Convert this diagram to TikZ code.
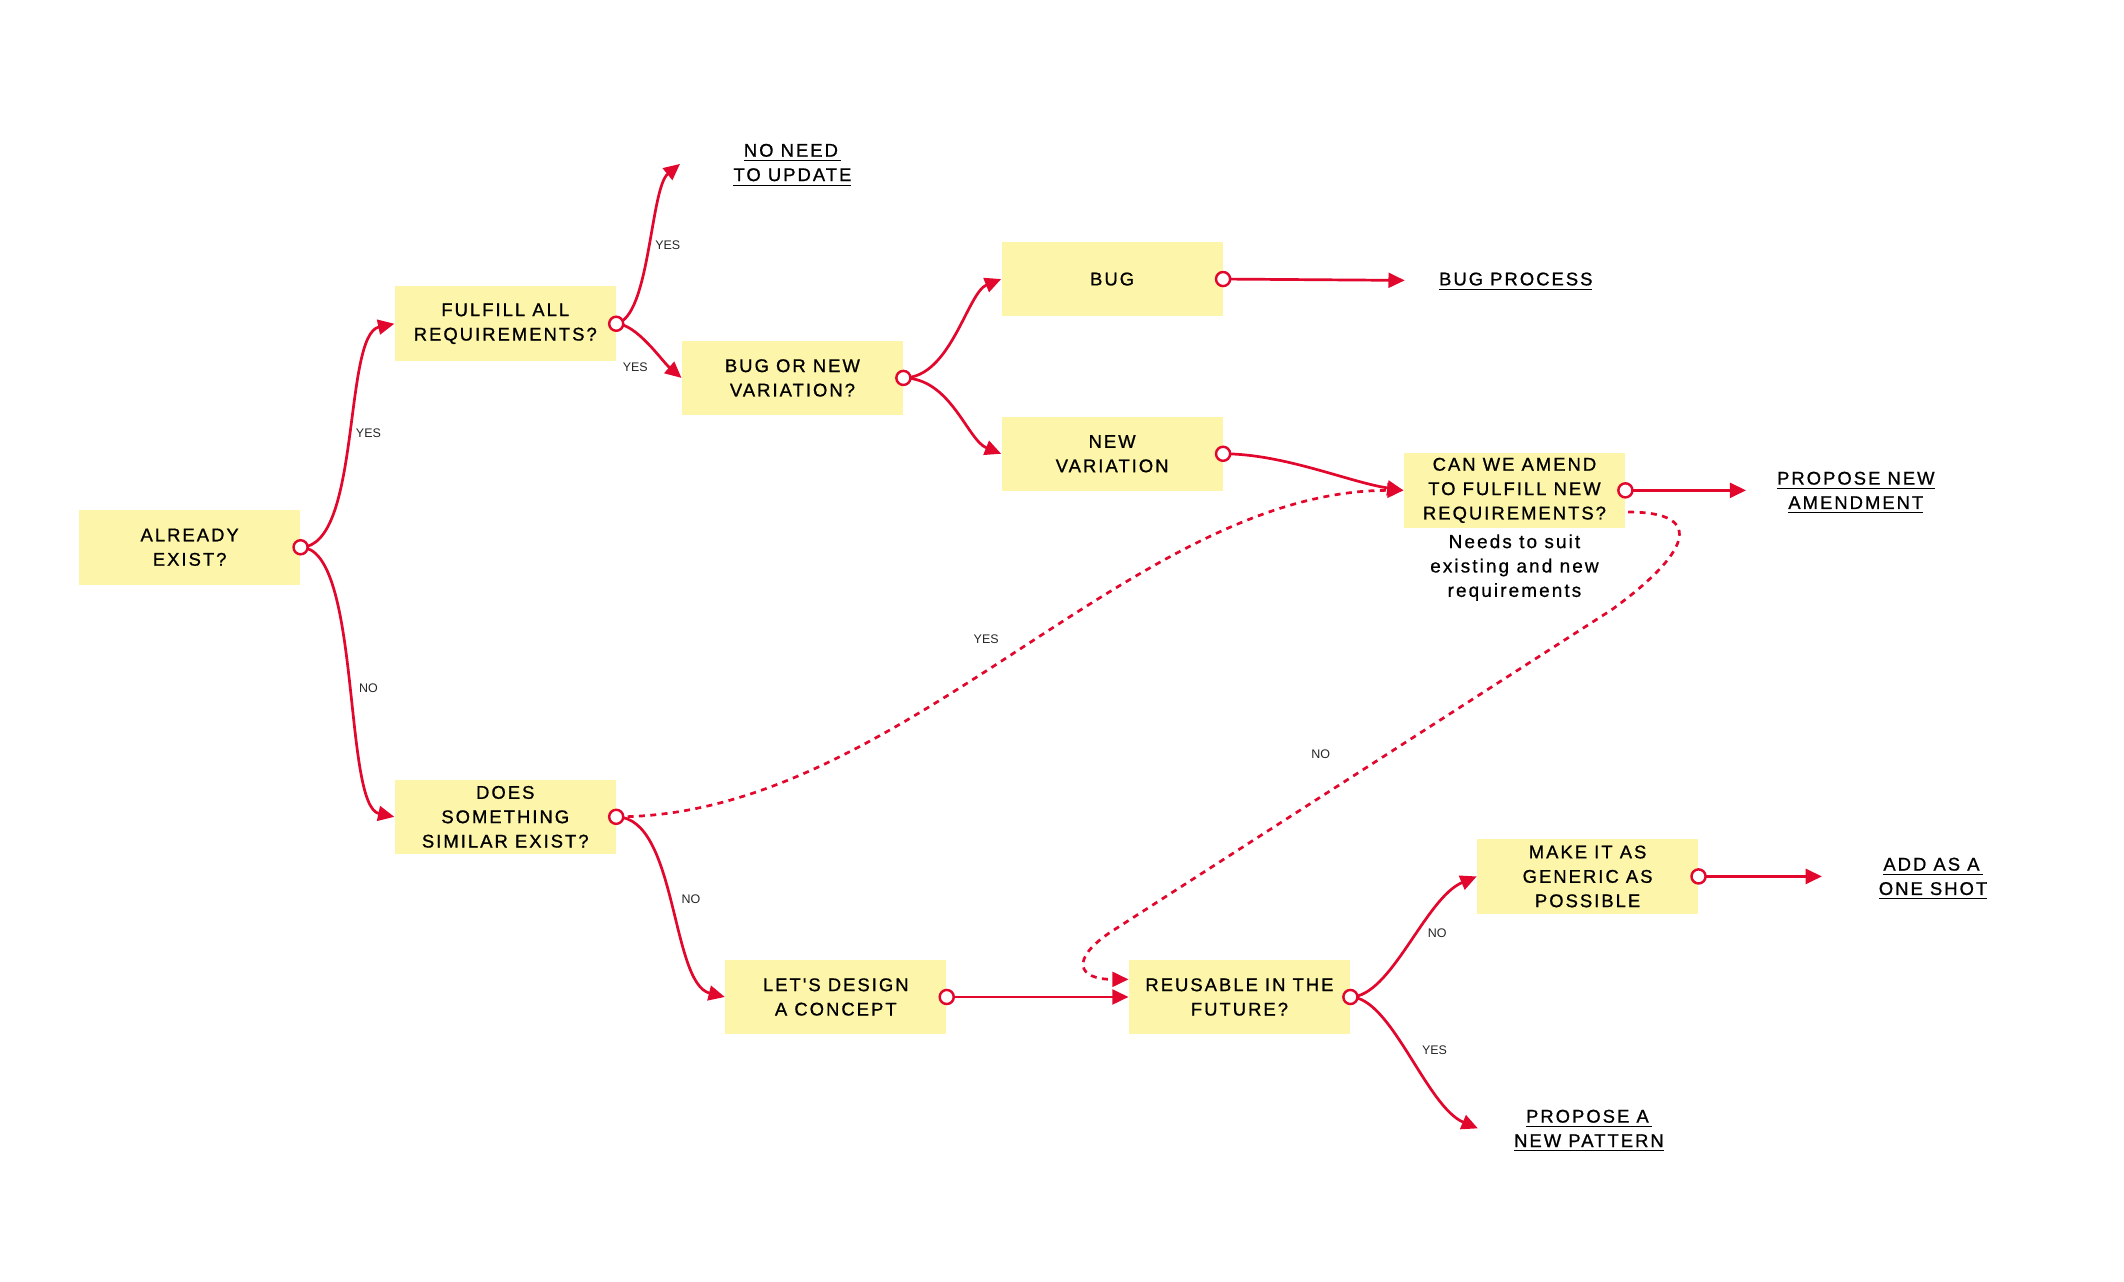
\documentclass[tikz,border=0pt]{standalone}
\usepackage{fontspec}
\setmainfont{Liberation Sans}
\newfontfamily\boxfont[LetterSpace=11,FakeBold=0.9]{Liberation Sans}
\newfontfamily\notefont[LetterSpace=11,FakeBold=0.6]{Liberation Sans}
\newfontfamily\lblfont{Liberation Sans}
\usetikzlibrary{arrows.meta,calc}
\definecolor{flowred}{HTML}{E2072D}
\definecolor{boxyellow}{HTML}{FDF5A9}
\begin{document}
\begin{tikzpicture}[x=0.5pt,y=-0.5pt,
  box/.style={fill=boxyellow, minimum width=81.5pt, minimum height=27.5pt, inner sep=0pt, align=center, font=\boxfont\fontsize{6.8}{9}\selectfont},
  term/.style={align=center, inner sep=0pt, font=\boxfont\fontsize{6.8}{9}\selectfont},
  note/.style={align=center, inner sep=0pt, font=\notefont\fontsize{7}{9}\selectfont},
  flow/.style={draw=flowred, line width=1pt, -{Triangle[length=6pt,width=5.5pt]}},
  dflow/.style={flow, dash pattern=on 2.2pt off 2pt},
  lbl/.style={font=\lblfont\fontsize{4.6}{5}\selectfont, text=black!85, inner sep=0pt},
  knob/.style={circle, draw=flowred, fill=white, line width=0.9pt, minimum size=5.2pt, inner sep=0pt}
]
\useasboundingbox (0,0) rectangle (1568,946);

% boxes
\node[box] (a) at (140,404) {ALREADY\\EXIST?};
\node[box] (b) at (373,239) {FULFILL ALL\\REQUIREMENTS?};
\node[box] (c) at (585,279) {BUG OR NEW\\VARIATION?};
\node[box] (d) at (821,206) {BUG};
\node[box] (e) at (821,335) {NEW\\VARIATION};
\node[box] (f) at (1118,362) {CAN WE AMEND\\TO FULFILL NEW\\REQUIREMENTS?};
\node[box] (g) at (373,603) {DOES\\SOMETHING\\SIMILAR EXIST?};
\node[box] (h) at (617,736) {LET'S DESIGN\\A CONCEPT};
\node[box] (i) at (915,736) {REUSABLE IN THE\\FUTURE?};
\node[box] (j) at (1172,647) {MAKE IT AS\\GENERIC AS\\POSSIBLE};

% terminals
\node[term] (t1) at (585,122) {\underline{NO NEED\,}\\\underline{TO UPDATE}};
\node[term] (t2) at (1119,208) {\underline{BUG PROCESS}};
\node[term] (t3) at (1370,364) {\underline{PROPOSE NEW}\\\underline{AMENDMENT}};
\node[term] (t4) at (1427,649) {\underline{ADD AS A\,}\\\underline{ONE SHOT}};
\node[term] (t5) at (1173,835) {\underline{PROPOSE A\,}\\\underline{NEW PATTERN}};
\node[note] (n1) at (1118,419) {Needs to suit\\existing and new\\requirements};

% free ends
\coordinate (e1) at (502,121);
\coordinate (e2) at (1037,207);
\coordinate (e3) at (1289,362);
\coordinate (e4) at (1345,647);
\coordinate (e5) at (1091,833);
\coordinate (fs) at (1202,378);

% connectors
\draw[flow] (a.east) .. controls +(45,0) and +(-38,8) .. (b.west);
\draw[flow] (a.east) .. controls +(45,0) and +(-38,-8) .. (g.west);
\draw[flow] (b.east) .. controls +(25,-5) and +(-22,18) .. (e1);
\draw[flow] (b.east) .. controls +(15,0) and +(-14,-12) .. (c.west);
\draw[flow] (c.east) .. controls +(35,0) and +(-25,10) .. (d.west);
\draw[flow] (c.east) .. controls +(35,0) and +(-25,-10) .. (e.west);
\draw[flow] (d.east) -- (e2);
\draw[flow] (e.east) .. controls +(45,0) and +(-40,-6) .. (f.west);
\draw[flow] (f.east) -- (e3);
\draw[dflow] (g.east) .. controls +(210,0) and +(-200,0) .. (f.west);
\draw[flow] (g.east) .. controls +(45,0) and +(-40,-10) .. (h.west);
\draw[flow] (h.east) -- (i.west);
\draw[dflow] (fs) .. controls (1262,378) and (1245,410) .. (1190,450)
  -- (820,688) .. controls (790,708) and (795,723) .. ($(i.west)+(0,-13)$);
\draw[flow] (i.east) .. controls +(30,0) and +(-38,16) .. (j.west);
\draw[flow] (i.east) .. controls +(30,0) and +(-38,-16) .. (e5);
\draw[flow] (j.east) -- (e4);

% labels
\node[lbl] (l1) at (272,320) {YES};
\node[lbl] (l2) at (272,508) {NO};
\node[lbl] (l3) at (493,181) {YES};
\node[lbl] (l4) at (469,271) {YES};
\node[lbl] (l5) at (728,472) {YES};
\node[lbl] (l6) at (510,664) {NO};
\node[lbl] (l7) at (975,557) {NO};
\node[lbl] (l8) at (1061,689) {NO};
\node[lbl] (l9) at (1059,775) {YES};

% knobs
\foreach \n in {a,b,c,d,e,f,g,h,i,j}
  \node[knob] (k\n) at (\n.east) {};
\end{tikzpicture}
\end{document}
